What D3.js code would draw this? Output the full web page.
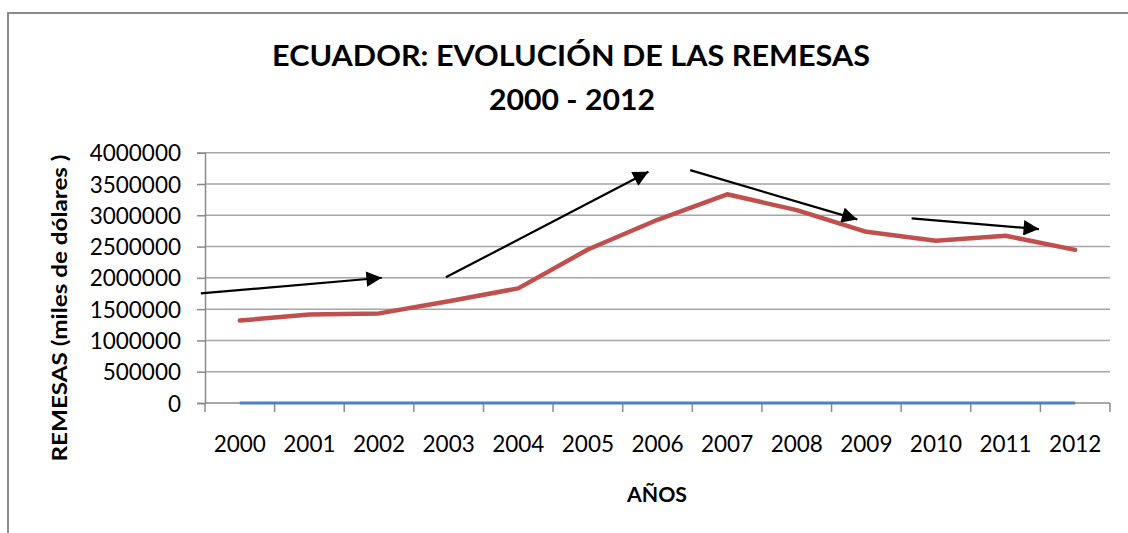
<!DOCTYPE html>
<html>
<head>
<meta charset="utf-8">
<script src="https://cdn.jsdelivr.net/npm/d3@7"></script>
<style>
html,body{margin:0;padding:0;background:#fff;}
svg{display:block;font-family:Lato, "Open Sans", sans-serif;}
</style>
</head>
<body>
<svg id="chart" width="1128" height="533"></svg>
<script>
// ---- data ----
const years = ["2000","2001","2002","2003","2004","2005","2006","2007","2008","2009","2010","2011","2012"];
const remesas = [1316700,1414500,1432000,1627400,1832000,2453500,2927600,3335400,3082600,2735500,2591500,2672400,2446400];
const baseSeries = [0,0,0,0,0,0,0,0,0,0,0,0,0];
const yTicks = [0,500000,1000000,1500000,2000000,2500000,3000000,3500000,4000000];
// trend arrows, in (category position, value) units
const arrowStarts = [[-0.06,1752000],[3.46,2008000],[6.97,3722000],[10.15,2950000]];
const arrowEnds   = [[2.54,2001600],[6.37,3695000],[9.37,2934000],[11.98,2780000]];
const titleLines = ["ECUADOR: EVOLUCIÓN DE LAS REMESAS","2000 - 2012"];
const yTitle = "REMESAS (miles de dólares )";
const xTitle = "AÑOS";

const svg = d3.select("#chart");
const W = 1128, H = 533;
const m = {left:205, right:1110, top:152.7, bottom:403};

// outer frame
svg.append("rect").attr("x",8).attr("y",13).attr("width",W+20).attr("height",H+20)
  .attr("fill","#fff").attr("stroke","#8a8a8a").attr("stroke-width",2);

const x = d3.scaleBand().domain(years).range([m.left,m.right]).padding(0);
const xPos = d3.scaleLinear().domain([0,years.length]).range([m.left,m.right]);
const y = d3.scaleLinear().domain([0,4000000]).range([m.bottom,m.top]);

// gridlines
svg.append("g").selectAll("line").data(yTicks.filter(d=>d>0)).join("line")
  .attr("x1",m.left).attr("x2",m.right)
  .attr("y1",d=>y(d)).attr("y2",d=>y(d))
  .attr("stroke","#a6a6a6").attr("stroke-width",1.5);

// y axis
const yAxis = svg.append("g").attr("transform",`translate(${m.left},0)`)
  .call(d3.axisLeft(y).tickValues(yTicks).tickSize(8).tickPadding(16).tickFormat(d3.format("d")));
yAxis.select(".domain").attr("stroke","#8a8a8a").attr("stroke-width",1.5);
yAxis.selectAll(".tick line").attr("stroke","#8a8a8a").attr("stroke-width",1.5);
yAxis.selectAll("text").attr("font-size",22.5).attr("fill","#000").attr("font-family","Lato").attr("dy","0.36em");

// x axis with ticks at category boundaries
const xAxisG = svg.append("g").attr("transform",`translate(0,${m.bottom})`);
xAxisG.append("line").attr("x1",m.left).attr("x2",m.right).attr("y1",0).attr("y2",0)
  .attr("stroke","#8a8a8a").attr("stroke-width",1.5);
xAxisG.selectAll("line.tk").data(d3.range(years.length+1)).join("line").attr("class","tk")
  .attr("x1",d=>xPos(d)).attr("x2",d=>xPos(d)).attr("y1",0).attr("y2",9)
  .attr("stroke","#8a8a8a").attr("stroke-width",1.5);
xAxisG.selectAll("text").data(years).join("text")
  .attr("x",d=>x(d)+x.bandwidth()/2).attr("y",49)
  .attr("text-anchor","middle").attr("font-size",22.5).attr("fill","#000")
  .text(d=>d);

// series lines
const line = d3.line().x((d,i)=>x(years[i])+x.bandwidth()/2).y(d=>y(d));
svg.append("path").datum(baseSeries).attr("d",line)
  .attr("fill","none").attr("stroke","#4F81BD").attr("stroke-width",3);
svg.append("path").datum(remesas).attr("d",line)
  .attr("fill","none").attr("stroke","#C0504D").attr("stroke-width",4.5)
  .attr("stroke-linejoin","round").attr("stroke-linecap","round");

// arrows
const defs = svg.append("defs");
defs.append("marker").attr("id","ah").attr("viewBox","0 0 10 10").attr("refX",10).attr("refY",5)
  .attr("markerWidth",7.5).attr("markerHeight",7).attr("markerUnits","strokeWidth").attr("orient","auto")
  .append("path").attr("d","M0,0 L10,5 L0,10 Z").attr("fill","#000");
svg.append("g").selectAll("line").data(arrowStarts).join("line")
  .attr("x1",d=>xPos(d[0])).attr("y1",d=>y(d[1]))
  .attr("x2",(d,i)=>xPos(arrowEnds[i][0])).attr("y2",(d,i)=>y(arrowEnds[i][1]))
  .attr("stroke","#000").attr("stroke-width",2.2).attr("marker-end","url(#ah)");

// titles
svg.append("text").attr("x",571).attr("y",66).attr("text-anchor","middle")
  .attr("font-size",29).attr("font-weight","bold").attr("fill","#000")
  .attr("textLength",598).attr("lengthAdjust","spacingAndGlyphs").text(titleLines[0]);
svg.append("text").attr("x",572).attr("y",110).attr("text-anchor","middle")
  .attr("font-size",29).attr("font-weight","bold").attr("fill","#000")
  .attr("textLength",166).attr("lengthAdjust","spacingAndGlyphs").text(titleLines[1]);

svg.append("text").attr("transform","translate(67,308) rotate(-90)").attr("text-anchor","middle")
  .attr("font-size",20).attr("font-weight","bold").attr("fill","#000")
  .attr("textLength",307).attr("lengthAdjust","spacingAndGlyphs").text(yTitle);

svg.append("text").attr("x",657).attr("y",502).attr("text-anchor","middle")
  .attr("font-size",20).attr("font-weight","bold").attr("fill","#000")
  .attr("textLength",60).attr("lengthAdjust","spacingAndGlyphs").text(xTitle);
</script>
</body>
</html>
